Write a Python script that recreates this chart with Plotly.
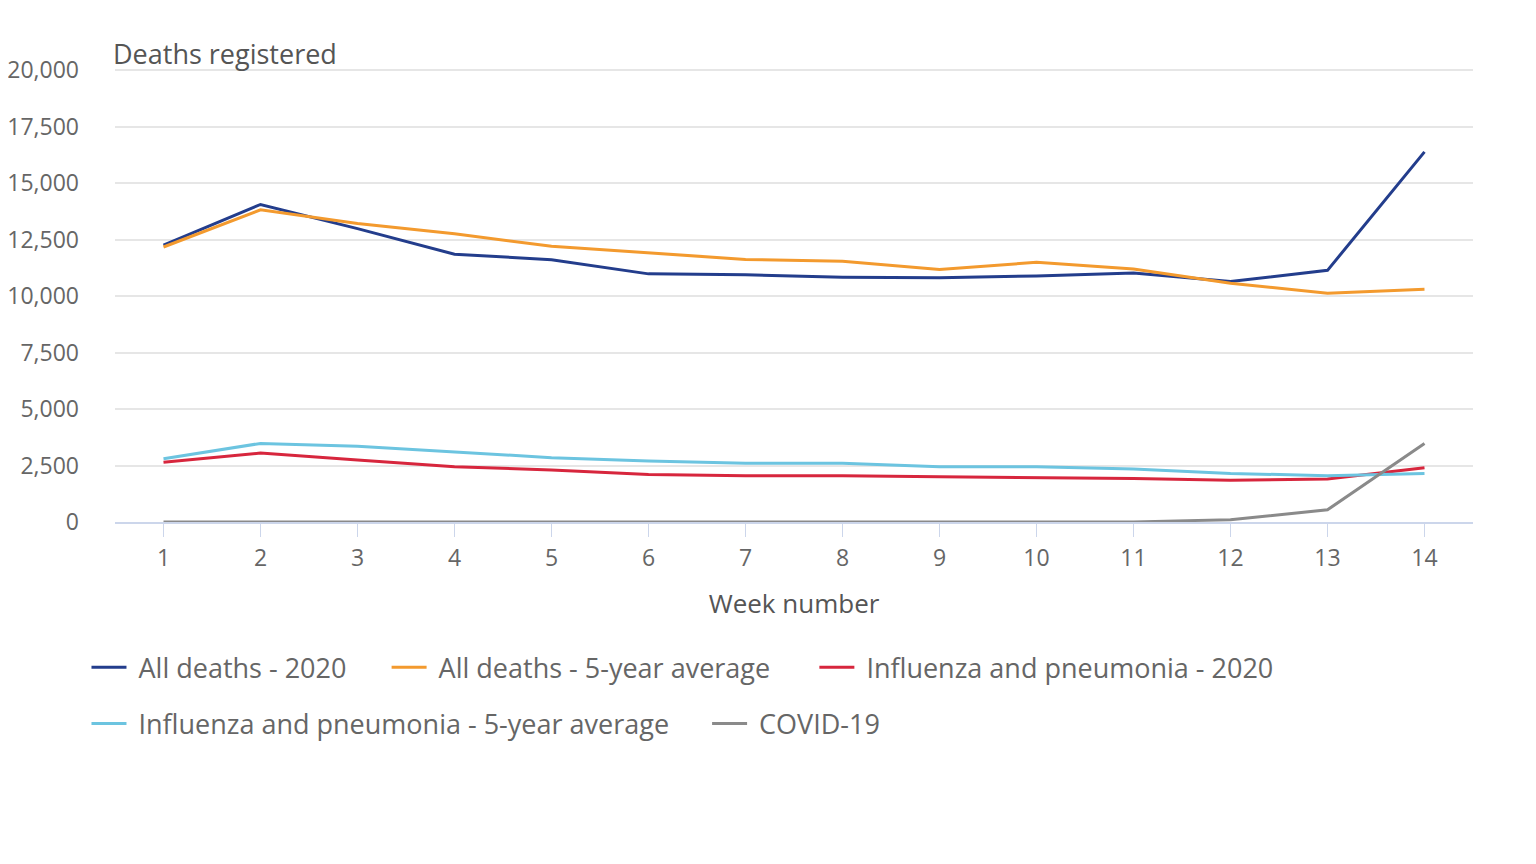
import plotly.graph_objects as go

weeks = list(range(1, 15))
all_2020 = [12254, 14058, 12990, 11856, 11612, 10986, 10944, 10841, 10816, 10895, 11019, 10645, 11141, 16387]
all_avg = [12175, 13822, 13216, 12760, 12206, 11925, 11627, 11548, 11183, 11498, 11205, 10573, 10130, 10305]
flu_2020 = [2650, 3050, 2750, 2450, 2300, 2100, 2050, 2050, 2000, 1960, 1930, 1850, 1900, 2400]
flu_avg = [2800, 3480, 3350, 3100, 2850, 2700, 2600, 2600, 2450, 2450, 2350, 2150, 2050, 2150]
covid = [0, 0, 0, 0, 0, 0, 0, 0, 0, 0, 5, 103, 539, 3475]
yticks = [0, 2500, 5000, 7500, 10000, 12500, 15000, 17500, 20000]

series = [
    ("All deaths - 2020", all_2020, "#233d8c"),
    ("All deaths - 5-year average", all_avg, "#f39a2e"),
    ("Influenza and pneumonia - 2020", flu_2020, "#d7263d"),
    ("Influenza and pneumonia - 5-year average", flu_avg, "#6cc4e0"),
    ("COVID-19", covid, "#8a8a8a"),
]
# one legend per entry so the spacing can follow the original wrap
legend_pos = [(-0.021, -0.321), (0.200, -0.321), (0.515, -0.321),
              (-0.021, -0.445), (0.436, -0.445)]

fig = go.Figure()
legends = {}
for i, (name, vals, col) in enumerate(series):
    key = "legend" if i == 0 else f"legend{i + 1}"
    fig.add_trace(go.Scatter(x=weeks, y=vals, name="\u00a0" + name, mode="lines", showlegend=True,
                             line=dict(color=col, width=3), legend=key))
    lx, ly = legend_pos[i]
    legends[key] = dict(x=lx, y=ly, xanchor="left", yanchor="middle", orientation="h",
                        itemwidth=35, font=dict(size=27, color="#666666"),
                        bgcolor="rgba(0,0,0,0)", visible=True)

fig.update_layout(
    width=1536, height=864, showlegend=True,
    paper_bgcolor="white", plot_bgcolor="white",
    margin=dict(l=107, r=71, t=60, b=350),
    font=dict(family="Open Sans", color="#666666", size=23),
    annotations=[dict(text="Deaths registered", xref="paper", yref="paper", x=-0.003, y=1.033,
                      xanchor="left", yanchor="middle", showarrow=False,
                      font=dict(size=27, color="#555555"))],
    **legends,
)
fig.update_xaxes(range=[0.5, 14.5], tickvals=weeks, ticks="outside", ticklen=13,
                 tickcolor="#ccd6eb", showline=True, linecolor="#ccd6eb", linewidth=1.5,
                 showgrid=False, zeroline=False, ticklabelstandoff=2,
                 title=dict(text="Week number", font=dict(size=26, color="#555555"), standoff=22))
fig.update_yaxes(range=[0, 20100], tickvals=yticks, tickformat=",", gridcolor="#e6e6e6",
                 gridwidth=1.5, zeroline=False, ticklabelstandoff=35, automargin=False)

fig.write_html("out.html")
